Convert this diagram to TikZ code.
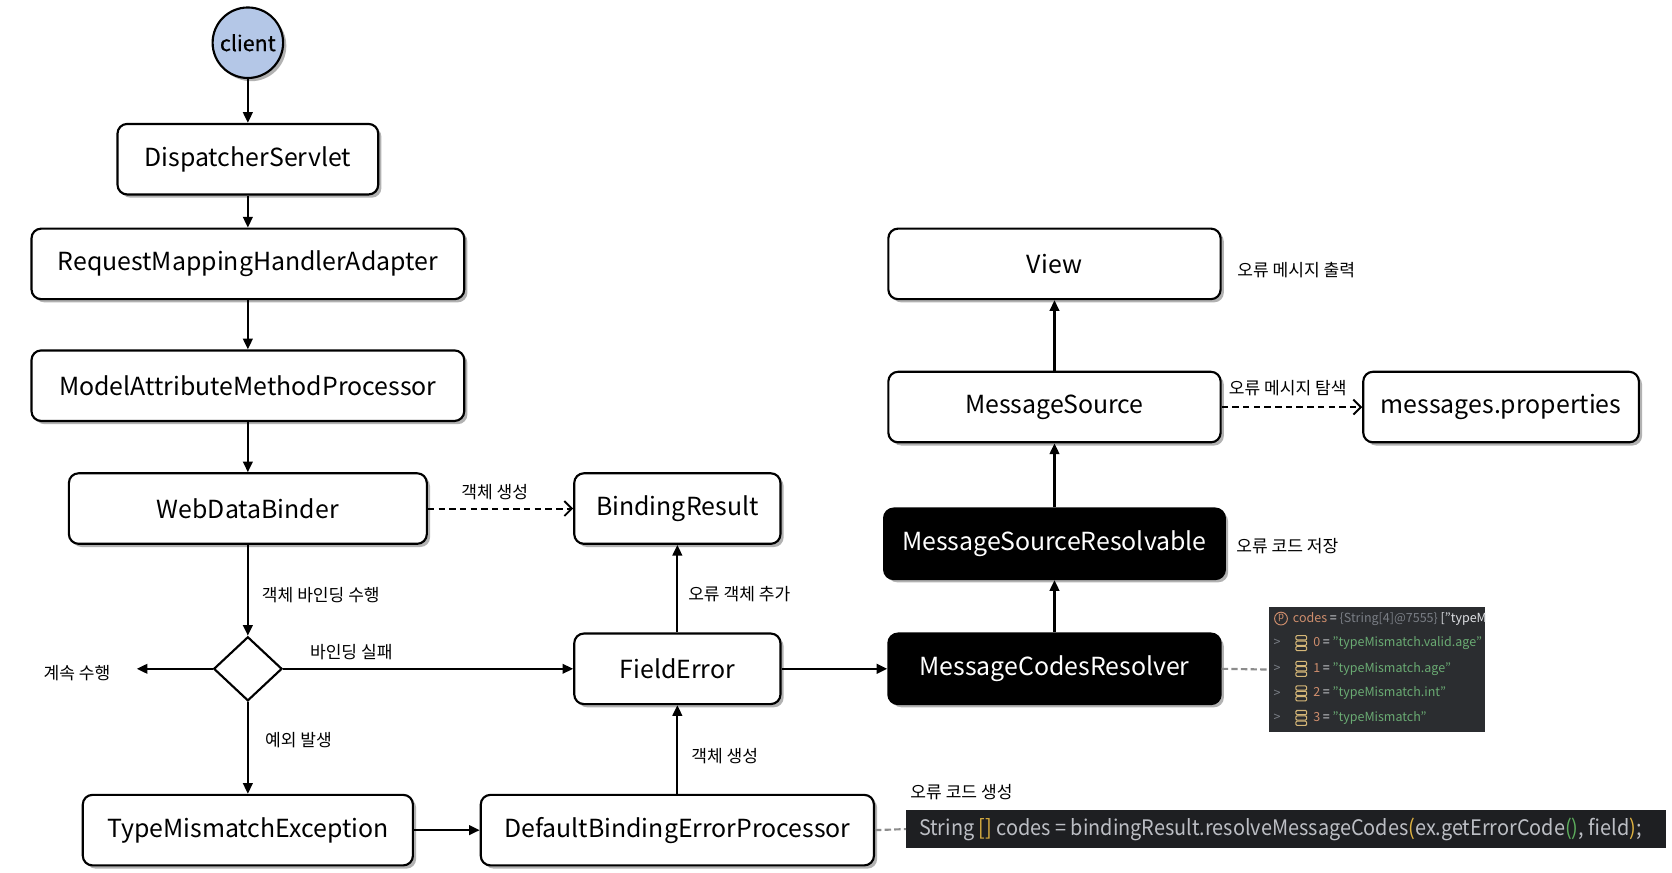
\documentclass[tikz,border=0pt]{standalone}
\usepackage{fontspec}
\setmainfont{Noto Sans CJK KR}
\newfontfamily\codefont[FakeStretch=0.93]{Noto Sans CJK KR}
\newfontfamily\clientfont[FakeBold=0.6]{Noto Sans CJK KR}
\usetikzlibrary{arrows.meta,shapes.geometric,shadows}
\definecolor{clientblue}{RGB}{180,199,231}
\definecolor{dbgbg}{HTML}{2B2D30}
\definecolor{dbgorange}{HTML}{CF8E6D}
\definecolor{dbggray}{HTML}{7A7E85}
\definecolor{dbgwhite}{HTML}{DFE1E5}
\definecolor{dbggreen}{HTML}{6AAB73}
\definecolor{dbggold}{HTML}{D5B778}
\definecolor{codebg}{HTML}{1E1F22}
\definecolor{codetext}{HTML}{BCBEC4}
\definecolor{codegold}{HTML}{E0B341}
\definecolor{codegreen}{HTML}{5DAE5D}
\definecolor{linkgray}{gray}{0.55}
\begin{document}
\begin{tikzpicture}[x=1pt,y=-1pt,
  box/.style={draw=black,line width=2pt,rounded corners=9pt,fill=white,inner sep=0pt,
    minimum height=66pt,font=\fontsize{23.3}{26}\selectfont,
    drop shadow={shadow xshift=3pt,shadow yshift=-3pt,opacity=0.3,fill=black}},
  dbox/.style={box,fill=black,text=white},
  lbl/.style={font=\fontsize{16}{18}\selectfont,inner sep=0pt,anchor=west},
  arr/.style={line width=2pt,-{Triangle[length=10pt,width=9pt]}},
  darr/.style={line width=1.8pt,dash pattern=on 6pt off 4pt,
    -{Straight Barb[length=7pt,width=14pt,line width=1.8pt]}},
  gline/.style={draw=linkgray,line width=2pt,dash pattern=on 6pt off 3pt},
  dbgtxt/.style={font=\fontsize{11.7}{14}\selectfont,inner sep=0pt,anchor=west},
  stackicon/.style={draw=dbggold,line width=1pt,rounded corners=1pt}]
\useasboundingbox (0,0) rectangle (1565,817);
\fill[white] (0,0) rectangle (1565,817);

% left column
\node[circle,draw=black,line width=2pt,fill=clientblue,minimum size=66pt,inner sep=0pt,
  font=\clientfont\fontsize{20}{22}\selectfont,
  drop shadow={shadow xshift=3pt,shadow yshift=-3pt,opacity=0.3,fill=black}] (client) at (232,40) {client};
\node[box,minimum width=244pt] (ds) at (232,149) {DispatcherServlet};
\node[box,minimum width=405pt] (rmha) at (232,247) {RequestMappingHandlerAdapter};
\node[box,minimum width=405pt] (mamp) at (232,361) {ModelAttributeMethodProcessor};
\node[box,minimum width=335pt] (wdb) at (232,476) {WebDataBinder};
\node[box,minimum width=193pt] (br) at (634,476) {BindingResult};
\node[diamond,draw=black,line width=2pt,fill=white,minimum width=64pt,minimum height=60pt,inner sep=0pt] (dia) at (232,626) {};
\node[font=\fontsize{16}{18}\selectfont,inner sep=0pt] (cont) at (72,630) {계속 수행};
\coordinate (contend) at (128,626);
\node[box,minimum width=193pt] (fe) at (634,626) {FieldError};
\node[box,minimum width=309pt] (tme) at (232,777) {TypeMismatchException};
\node[box,minimum width=368pt] (dbep) at (634,777) {DefaultBindingErrorProcessor};

% right column
\node[dbox,minimum width=311pt] (mcr) at (987,626) {MessageCodesResolver};
\node[dbox,minimum width=319pt] (msr) at (987,509) {MessageSourceResolvable};
\node[box,minimum width=311pt] (ms) at (987,381) {MessageSource};
\node[box,minimum width=311pt] (view) at (987,247) {View};
\node[box,minimum width=258pt] (mp) at (1405,381) {messages.properties};

% connectors
\draw[arr] (client) -- (ds);
\draw[arr] (ds) -- (rmha);
\draw[arr] (rmha) -- (mamp);
\draw[arr] (mamp) -- (wdb);
\draw[arr] (wdb) -- (dia);
\draw[darr] (wdb) -- (br);
\draw[arr] (dia.west) -- (contend);
\draw[arr] (dia.east) -- (fe.west);
\draw[arr] (dia.south) -- (tme.north);
\draw[arr] (tme) -- (dbep);
\draw[arr] (dbep) -- (fe);
\draw[arr] (fe) -- (br);
\draw[arr] (fe) -- (mcr);
\draw[arr] (mcr) -- (msr);
\draw[arr] (msr) -- (ms);
\draw[arr] (ms) -- (view);
\draw[darr] (ms) -- (mp);

% labels
\node[lbl] (l1) at (245,557) {객체 바인딩 수행};
\node[font=\fontsize{16}{18}\selectfont,inner sep=0pt] (l2) at (463,461) {객체 생성};
\node[lbl] (l3) at (290,610) {바인딩 실패};
\node[lbl] (l4) at (248,693) {예외 발생};
\node[lbl] (l5) at (644,556) {오류 객체 추가};
\node[lbl] (l6) at (647,708) {객체 생성};
\node[lbl] (l7) at (852,741) {오류 코드 생성};
\node[lbl] (l8) at (1158,253) {오류 메시지 출력};
\node[lbl] (l9) at (1150,363) {오류 메시지 탐색};
\node[lbl] (l10) at (1157,511) {오류 코드 저장};

% debugger box
\node[fill=dbgbg,minimum width=202pt,minimum height=117pt,inner sep=0pt,anchor=north west] (dbg) at (1188,568) {};
\begin{scope}
\clip (dbg.north west) rectangle (dbg.south east);
\draw[dbgorange,line width=0.9pt] (1199,579) circle (6pt);
\node[font=\fontsize{9}{10}\selectfont,text=dbgorange,inner sep=0pt] (pic) at (1199,578.5) {p};
\node[dbgtxt] (d0) at (1210,579) {\color{dbgorange}codes\color{dbgwhite}\ =\ \color{dbggray}\{String[4]@7555\}\ \color{dbgwhite}["typeMismatch.valid.age"};
\foreach \i/\s/\yy in {0/typeMismatch.valid.age/602,1/typeMismatch.age/626,2/typeMismatch.int/649,3/typeMismatch/672}{
  \node[dbgtxt,text=dbggray] at (1192,\yy) {>};
  \draw[stackicon] (1213,\yy-7) rectangle (1223,\yy-3);
  \draw[stackicon] (1213,\yy-2) rectangle (1223,\yy+2);
  \draw[stackicon] (1213,\yy+3) rectangle (1223,\yy+7);
  \node[dbgtxt] at (1229,\yy) {\color{dbgorange}\i\color{dbgwhite}\ =\ \color{dbggreen}"\s"};
}
\end{scope}
\draw[gline] (mcr.east) -- (dbg.west);

% code strip
\node[fill=codebg,anchor=west,minimum width=711pt,minimum height=35pt,inner sep=0pt] (code) at (848,776) {};
\node[anchor=west,inner sep=0pt,text=codetext,font=\codefont\fontsize{20}{22}\selectfont] (codetxt) at (860,776)
  {String\ \textcolor{codegold}{[]}\ codes\ =\ bindingResult.resolveMessageCodes\textcolor{codegold}{(}ex.getErrorCode\textcolor{codegreen}{()},\ field\textcolor{codegold}{)};};
\draw[gline] (dbep.east) -- (code.west);
\end{tikzpicture}
\end{document}
